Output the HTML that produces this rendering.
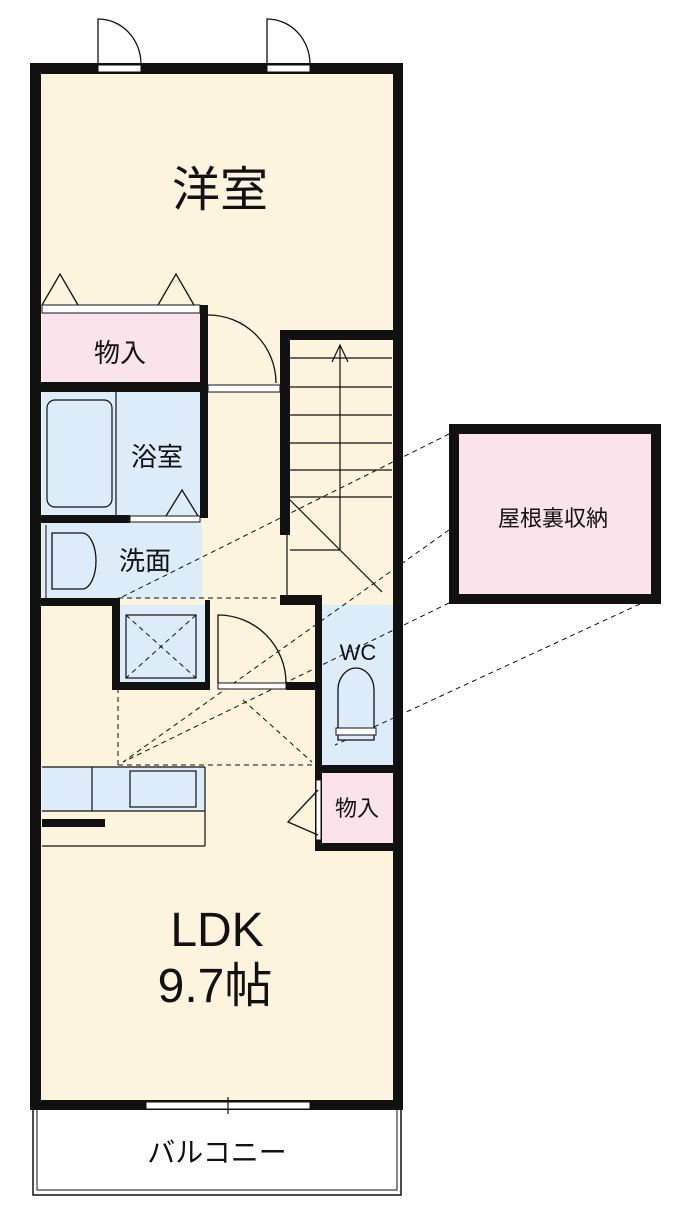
<!DOCTYPE html>
<html><head><meta charset="utf-8"><style>
html,body{margin:0;padding:0;background:#fff;}
svg{display:block;}
text{font-family:"Liberation Sans","Noto Sans CJK JP",sans-serif;fill:#111;}
</style></head><body>
<svg width="700" height="1209" viewBox="0 0 700 1209" xmlns="http://www.w3.org/2000/svg">
<!-- balcony -->
<rect x="33" y="1108" width="368" height="87" fill="#fff" stroke="#111" stroke-width="1.5"/>
<rect x="37" y="1108" width="360" height="82" fill="none" stroke="#111" stroke-width="1"/>
<!-- floor -->
<rect x="36" y="68" width="362" height="1037" fill="#fcf4dd"/>
<!-- rooms fills -->
<rect x="42" y="313" width="160" height="70" fill="#fbe3ec"/>
<rect x="42" y="392" width="160" height="124" fill="#dcecf8"/>
<rect x="42" y="523" width="160" height="76" fill="#dcecf8"/>
<rect x="120" y="605" width="85" height="78" fill="#dcecf8"/>
<rect x="322" y="605" width="72" height="162" fill="#dcecf8"/>
<rect x="322" y="773" width="72" height="72" fill="#fbe3ec"/>
<rect x="42" y="767" width="163" height="44" fill="#dcecf8"/>
<!-- kitchen -->
<g fill="none" stroke="#111" stroke-width="1.2">
<line x1="42" y1="767" x2="205" y2="767"/>
<line x1="92" y1="767" x2="92" y2="811"/>
<rect x="130" y="771" width="66" height="36"/>
<line x1="42" y1="811" x2="205" y2="811"/>
<line x1="205" y1="767" x2="205" y2="846"/>
<line x1="42" y1="846" x2="205" y2="846"/>
</g>
<rect x="42" y="819" width="63" height="8" fill="#111"/>
<!-- bathtub -->
<rect x="47" y="400" width="65" height="107" rx="8" fill="#dcecf8" stroke="#111" stroke-width="1.2"/>
<line x1="116" y1="392" x2="116" y2="516" stroke="#111" stroke-width="1.2"/>
<!-- sink -->
<path d="M52 533 h30 a14 28 0 0 1 0 56 h-30 z" fill="none" stroke="#111" stroke-width="1.3"/>
<line x1="46" y1="525" x2="46" y2="598" stroke="#111"/>
<!-- shower box -->
<rect x="126" y="615" width="70" height="63" fill="none" stroke="#111" stroke-width="1.2"/>
<g stroke="#111" stroke-width="1" stroke-dasharray="5,4" fill="none">
<line x1="126" y1="615" x2="196" y2="678"/><line x1="196" y1="615" x2="126" y2="678"/>
<line x1="118" y1="598" x2="118" y2="765"/>
<line x1="118" y1="598" x2="282" y2="598"/>
<line x1="118" y1="765" x2="315" y2="765"/>
<line x1="449" y1="434" x2="120" y2="598"/>
<line x1="449" y1="530" x2="123" y2="762"/>
<line x1="449" y1="603" x2="123" y2="762"/>
<line x1="640" y1="604" x2="335" y2="745"/>
<line x1="243" y1="700" x2="312" y2="762"/>
</g>
<!-- stairs -->
<g stroke="#111" stroke-width="1.2" fill="none">
<line x1="290" y1="358" x2="392" y2="358"/>
<line x1="290" y1="387" x2="392" y2="387"/>
<line x1="290" y1="415" x2="392" y2="415"/>
<line x1="290" y1="443" x2="392" y2="443"/>
<line x1="290" y1="470" x2="392" y2="470"/>
<line x1="290" y1="497" x2="392" y2="497"/>
<line x1="290" y1="550" x2="340" y2="550"/>
<line x1="340" y1="345" x2="340" y2="550"/>
<polyline points="332,362 340,345 348,362"/>
<line x1="290" y1="500" x2="382" y2="592"/>
<line x1="287" y1="500" x2="287" y2="596"/>
</g>
<!-- WC toilet -->
<path d="M338 740 v-50 a18 22 0 0 1 36 0 v50 z" fill="#dcecf8" stroke="#111" stroke-width="1.3"/>
<rect x="336" y="728" width="40" height="7" fill="#fff" stroke="#111"/>
<!-- walls -->
<g fill="#111">
<rect x="30" y="63" width="373" height="11"/>
<rect x="30" y="63" width="11" height="1047"/>
<rect x="393" y="63" width="10" height="1047"/>
<rect x="30" y="1100" width="373" height="10"/>
<rect x="200" y="305" width="8" height="213"/>
<rect x="40" y="382" width="168" height="10"/>
<rect x="40" y="515" width="90" height="8"/>
<rect x="40" y="598" width="80" height="8"/>
<rect x="112" y="598" width="8" height="92"/>
<rect x="112" y="682" width="98" height="8"/>
<rect x="205" y="600" width="5" height="90"/>
<rect x="280" y="330" width="115" height="10"/>
<rect x="280" y="330" width="10" height="205"/>
<rect x="280" y="595" width="42" height="10"/>
<rect x="286" y="682" width="36" height="8"/>
<rect x="315" y="605" width="7" height="246"/>
<rect x="315" y="765" width="85" height="8"/>
<rect x="315" y="843" width="85" height="8"/>
</g>
<!-- openings -->
<g fill="#fff" stroke="#111" stroke-width="1">
<rect x="98" y="65" width="43" height="7"/>
<rect x="267" y="65" width="43" height="7"/>
<rect x="42" y="305" width="158" height="8"/>
<rect x="208" y="385" width="72" height="7"/>
<rect x="130" y="516" width="70" height="6"/>
<rect x="218" y="683" width="68" height="6"/>
<rect x="146" y="1102" width="164" height="7"/>
<rect x="316" y="780" width="5" height="60"/>
</g>
<line x1="228" y1="1097" x2="228" y2="1114" stroke="#111" stroke-width="1.2"/>
<!-- door swings -->
<g fill="none" stroke="#111" stroke-width="1.3">
<path d="M98 64 V19 A43 45 0 0 1 141 64"/>
<path d="M267 64 V19 A43 45 0 0 1 310 64"/>
<path d="M208 315 A68 68 0 0 1 276 383"/>
<path d="M218 683 V615 A68 68 0 0 1 286 683"/>
<polyline points="42,305 60,274 78,305"/>
<polyline points="158,305 176,274 194,305"/>
<polyline points="166,516 182,490 198,516"/>
<polyline points="318,790 288,822 318,835"/>
</g>
<!-- attic box -->
<rect x="454" y="429" width="202" height="170" fill="#fbe3ec" stroke="#111" stroke-width="10"/>
<!-- labels -->
<text x="220" y="206" font-size="48" text-anchor="middle">洋室</text>
<text x="120" y="362" font-size="26" text-anchor="middle">物入</text>
<text x="157" y="466" font-size="26" text-anchor="middle">浴室</text>
<text x="145" y="570" font-size="26" text-anchor="middle">洗面</text>
<text x="358" y="660" font-size="22" text-anchor="middle">WC</text>
<text x="357" y="816" font-size="22" text-anchor="middle">物入</text>
<text x="217" y="946" font-size="48" text-anchor="middle">LDK</text>
<text x="215" y="1002" font-size="48" text-anchor="middle">9.7帖</text>
<text x="217" y="1162" font-size="28" text-anchor="middle">バルコニー</text>
<text x="553" y="526" font-size="22" text-anchor="middle">屋根裏収納</text>
</svg>
</body></html>
